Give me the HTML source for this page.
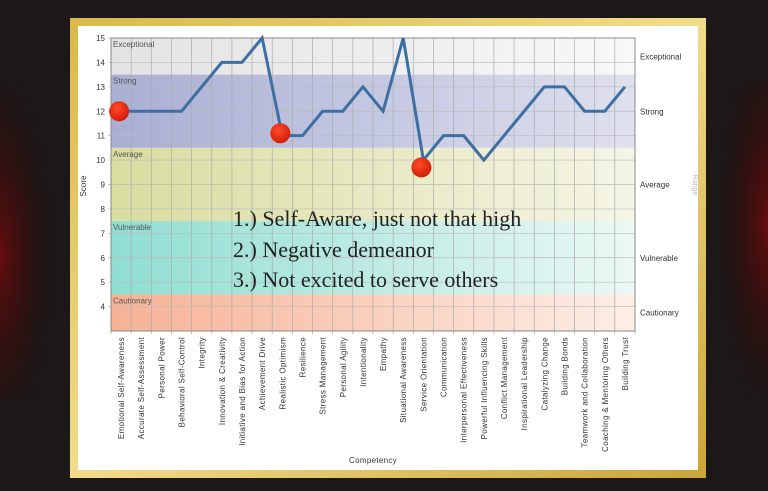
<!DOCTYPE html>
<html><head><meta charset="utf-8"><style>
body{margin:0;width:768px;height:491px;overflow:hidden;background:#151212;}
svg{display:block}
</style></head><body>
<svg id="c" width="768" height="491" viewBox="0 0 768 491" xmlns="http://www.w3.org/2000/svg" font-family="Liberation Sans, sans-serif">
<defs>
<radialGradient id="smokeL" cx="0" cy="0.55" r="0.6"><stop offset="0" stop-color="#7a0c0c" stop-opacity="0.8"/><stop offset="1" stop-color="#200" stop-opacity="0"/></radialGradient>
<radialGradient id="smokeR" cx="1" cy="0.45" r="0.6"><stop offset="0" stop-color="#7a0c0c" stop-opacity="0.8"/><stop offset="1" stop-color="#200" stop-opacity="0"/></radialGradient>
<linearGradient id="gold" x1="0" y1="0" x2="1" y2="1"><stop offset="0" stop-color="#d9b94a"/><stop offset="0.5" stop-color="#f1dc8a"/><stop offset="1" stop-color="#c9a53a"/></linearGradient>
<linearGradient id="gEx" x1="0" x2="1"><stop offset="0" stop-color="#e3e3e3"/><stop offset="1" stop-color="#f8f8f8"/></linearGradient>
<linearGradient id="gSt" x1="0" x2="1"><stop offset="0" stop-color="#a9aed4"/><stop offset="1" stop-color="#dfe1ee"/></linearGradient>
<linearGradient id="gAv" x1="0" x2="1"><stop offset="0" stop-color="#d9dd9f"/><stop offset="1" stop-color="#f5f5e6"/></linearGradient>
<linearGradient id="gVu" x1="0" x2="1"><stop offset="0" stop-color="#8fded2"/><stop offset="1" stop-color="#ecf8f5"/></linearGradient>
<linearGradient id="gCa" x1="0" x2="1"><stop offset="0" stop-color="#f6b295"/><stop offset="1" stop-color="#fdeee6"/></linearGradient>
<radialGradient id="dot" cx="0.4" cy="0.35" r="0.7"><stop offset="0" stop-color="#ff4a2a"/><stop offset="1" stop-color="#d11a05"/></radialGradient>
</defs>
<rect x="0" y="0" width="768" height="491" fill="#1c1818"/>
<rect x="0" y="80" width="90" height="320" fill="url(#smokeL)"/>
<rect x="680" y="80" width="88" height="320" fill="url(#smokeR)"/>
<rect x="70" y="18" width="636" height="460" fill="url(#gold)"/>
<rect x="78" y="26" width="620" height="444" fill="#ffffff"/>
<g id="bands"></g>
<g id="grid"></g>
<g id="axes"></g>
<g id="series"></g>
<g id="labels"></g>
<text transform="translate(86,186) rotate(-90)" font-size="8" fill="#333" text-anchor="middle">Score</text>
<text x="373" y="463" font-size="8" fill="#333" text-anchor="middle" letter-spacing="0.3">Competency</text>
<text transform="translate(693,185) rotate(90)" font-size="7" fill="#bbb" text-anchor="middle">Range</text>
<g font-family="Liberation Serif, serif" font-size="22" fill="#222">
<text x="233" y="226">1.) Self-Aware, just not that high</text>
<text x="233" y="257">2.) Negative demeanor</text>
<text x="233" y="287">3.) Not excited to serve others</text>
</g>
</svg>
<script>
const categories=["Emotional Self-Awareness","Accurate Self-Assessment","Personal Power","Behavioral Self-Control","Integrity","Innovation & Creativity","Initiative and Bias for Action","Achievement Drive","Realistic Optimism","Resilience","Stress Management","Personal Agility","Intentionality","Empathy","Situational Awareness","Service Orientation","Communication","Interpersonal Effectiveness","Powerful Influencing Skills","Conflict Management","Inspirational Leadership","Catalyzing Change","Building Bonds","Teamwork and Collaboration","Coaching & Mentoring Others","Building Trust"];
const scores=[12,12,12,12,13,14,14,15,11,11,12,12,13,12,15,10,11,11,10,11,12,13,13,12,12,13];
const yTicks=[4,5,6,7,8,9,10,11,12,13,14,15];
const bandNames=["Exceptional","Strong","Average","Vulnerable","Cautionary"];
const bandLow=[13.5,10.5,7.5,4.5,3];
const bandHigh=[15,13.5,10.5,7.5,4.5];
const highlighted=[0,8,15];
const highlightValues=[12,11.1,9.7];
const fills=["url(#gEx)","url(#gSt)","url(#gAv)","url(#gVu)","url(#gCa)"];
const X0=111,X1=635,YMIN=3,YMAX=15,YT=38,YB=331;
const ns="http://www.w3.org/2000/svg";
const cw=(X1-X0)/categories.length;
const xs=i=>X0+cw*(i+0.5);
const ys=v=>YB-(v-YMIN)/(YMAX-YMIN)*(YB-YT);
function mk(tag,attrs,parent,txt){const e=document.createElementNS(ns,tag);for(const k in attrs)e.setAttribute(k,attrs[k]);if(txt!==undefined)e.textContent=txt;document.getElementById(parent).appendChild(e);return e;}
bandNames.forEach((n,i)=>{
 const r=mk('rect',{x:X0,y:ys(bandHigh[i]),width:X1-X0,height:ys(bandLow[i])-ys(bandHigh[i]),fill:fills[i]},'bands');
 
 
 const t=mk('text',{x:X0+2,y:ys(bandHigh[i])+9,'font-size':8,fill:'#555'},'labels',n);
 
 
 const t2=mk('text',{x:640,y:(ys(bandHigh[i])+ys(bandLow[i]))/2+3,'font-size':8,fill:'#333'},'labels',n);
 
 
});
for(let i=0;i<=categories.length;i++){
 const l=mk('line',{x1:X0+cw*i,x2:X0+cw*i,y1:YT,y2:YB+3,stroke:'#aaa','stroke-width':0.7},'grid');
 
 
}
yTicks.forEach(v=>{
 const l=mk('line',{x1:X0-3,x2:X1,y1:ys(v),y2:ys(v),stroke:'#bbb','stroke-width':0.7},'grid');
 
 
 const t=mk('text',{x:X0-6,y:ys(v)+3,'font-size':8,fill:'#333','text-anchor':'end'},'axes',v);
 
 
});
const fr=mk('rect',{x:X0,y:YT,width:X1-X0,height:YB-YT,fill:'none',stroke:'#888','stroke-width':1},'axes');


categories.forEach((c,i)=>{
 const t=mk('text',{transform:`translate(${xs(i)+3},337) rotate(-90)`,'font-size':8,fill:'#333','text-anchor':'end','letter-spacing':0.35},'axes',c);
 
 
});
const pl=mk('polyline',{points:scores.map((v,i)=>xs(i)+','+ys(v)).join(' '),fill:'none',stroke:'#3d6fa3','stroke-width':3,'stroke-linejoin':'miter'},'series');


highlighted.forEach((i,k)=>{
 const c=mk('circle',{cx:xs(i)-2,cy:ys(highlightValues[k]),r:10,fill:'url(#dot)'},'series');
 
 
});
</script>
</body></html>
